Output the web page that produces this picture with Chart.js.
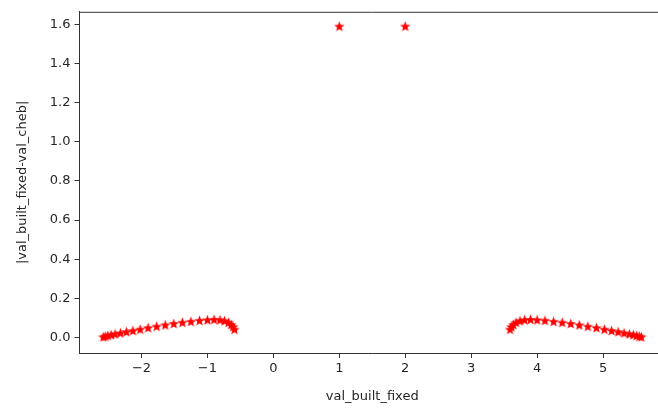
<!DOCTYPE html>
<html>
<head>
<meta charset="utf-8">
<script src="https://cdn.jsdelivr.net/npm/chart.js@4"></script>
<style>
  html, body { margin: 0; padding: 0; background: #fff; overflow: hidden; }
  #wrap { width: 670px; height: 408px; }
</style>
</head>
<body>
<div id="wrap"><canvas id="errChart"></canvas></div>
<script>
// giá trị
const leftX = [-2.58, -2.55, -2.51, -2.46, -2.40, -2.32, -2.23, -2.13, -2.02, -1.90, -1.77, -1.64,
               -1.51, -1.38, -1.25, -1.12, -1.00, -0.90, -0.81, -0.74, -0.68, -0.64, -0.61, -0.59];
const leftY = [0.003, 0.006, 0.010, 0.014, 0.018, 0.023, 0.029, 0.035, 0.042, 0.050, 0.057, 0.064,
               0.071, 0.077, 0.082, 0.087, 0.090, 0.092, 0.090, 0.085, 0.077, 0.066, 0.055, 0.042];
const midX = [1.0, 2.0];
const midY = [1.592, 1.592];
const rightX = [3.59, 3.61, 3.64, 3.68, 3.74, 3.81, 3.90, 4.00, 4.12, 4.25, 4.38, 4.51,
                4.64, 4.77, 4.90, 5.02, 5.13, 5.23, 5.32, 5.40, 5.46, 5.51, 5.55, 5.58];
const rightY = [0.042, 0.055, 0.066, 0.077, 0.085, 0.090, 0.092, 0.090, 0.087, 0.082, 0.077, 0.071,
                0.064, 0.057, 0.050, 0.042, 0.035, 0.029, 0.023, 0.018, 0.014, 0.010, 0.006, 0.003];
const xTicks = [-2, -1, 0, 1, 2, 3, 4, 5];
const yTicks = [0, 0.2, 0.4, 0.6, 0.8, 1.0, 1.2, 1.4, 1.6];

// ngôi sao đặc kiểu matplotlib
function makeStar(size, color) {
  const c = document.createElement('canvas');
  c.width = size; c.height = size;
  const g = c.getContext('2d');
  const cx = size / 2, cy = size / 2 + 0.6;
  const ro = size / 2, ri = ro * 0.42;
  g.beginPath();
  for (let i = 0; i < 10; i++) {
    const r = i % 2 === 0 ? ro : ri;
    const a = -Math.PI / 2 + i * Math.PI / 5;
    const px = cx + r * Math.cos(a), py = cy + r * Math.sin(a);
    if (i === 0) g.moveTo(px, py); else g.lineTo(px, py);
  }
  g.closePath();
  g.fillStyle = color;
  g.fill();
  return c;
}
const star = makeStar(11, '#ff0000');

const allX = leftX.concat(midX, rightX);
const allY = leftY.concat(midY, rightY);
const points = allX.map((x, i) => ({ x: x, y: allY[i] }));

const frame = {
  id: 'frame',
  afterDraw(chart) {
    const { ctx, chartArea: a } = chart;
    ctx.save();
    ctx.strokeStyle = '#333';
    ctx.lineWidth = 1;
    ctx.beginPath();
    ctx.moveTo(a.left, a.top + 0.5);
    ctx.lineTo(a.right, a.top + 0.5);
    ctx.stroke();
    ctx.restore();
  }
};

const tickFont = { family: 'DejaVu Sans', size: 13 };

new Chart(document.getElementById('errChart'), {
  type: 'scatter',
  data: {
    datasets: [{
      data: points,
      pointStyle: star,
      showLine: false
    }]
  },
  options: {
    responsive: true,
    maintainAspectRatio: false,
    animation: false,
    layout: { padding: { top: 11, left: 0, right: 1, bottom: 0 } },
    plugins: { legend: { display: false }, tooltip: { enabled: false } },
    scales: {
      x: {
        type: 'linear',
        min: -2.94,
        max: 5.94,
        afterBuildTicks: s => { s.ticks = xTicks.map(v => ({ value: v })); },
        afterFit: s => { s.height = 55; },
        grid: { drawOnChartArea: false, tickLength: 5, color: '#333' },
        border: { display: true, color: '#333' },
        ticks: {
          font: tickFont, color: '#262626', padding: 3, maxRotation: 0,
          callback: v => (v < 0 ? '\u2212' + Math.abs(v) : String(v))
        },
        title: {
          display: true, text: 'val_built_fixed',
          font: tickFont, color: '#262626', padding: { top: 4, bottom: 4 }
        }
      },
      y: {
        type: 'linear',
        min: -0.08,
        max: 1.665,
        afterBuildTicks: s => { s.ticks = yTicks.map(v => ({ value: v })); },
        afterFit: s => { s.width = 79.5; },
        grid: { drawOnChartArea: false, tickLength: 5, color: '#333' },
        border: { display: true, color: '#333' },
        ticks: {
          font: tickFont, color: '#262626', padding: 4,
          callback: v => v.toFixed(1)
        },
        title: {
          display: true, text: '|val_built_fixed-val_cheb|',
          font: tickFont, color: '#262626', padding: { top: 15, bottom: 4 }
        }
      }
    }
  },
  plugins: [frame]
});
</script>
</body>
</html>
